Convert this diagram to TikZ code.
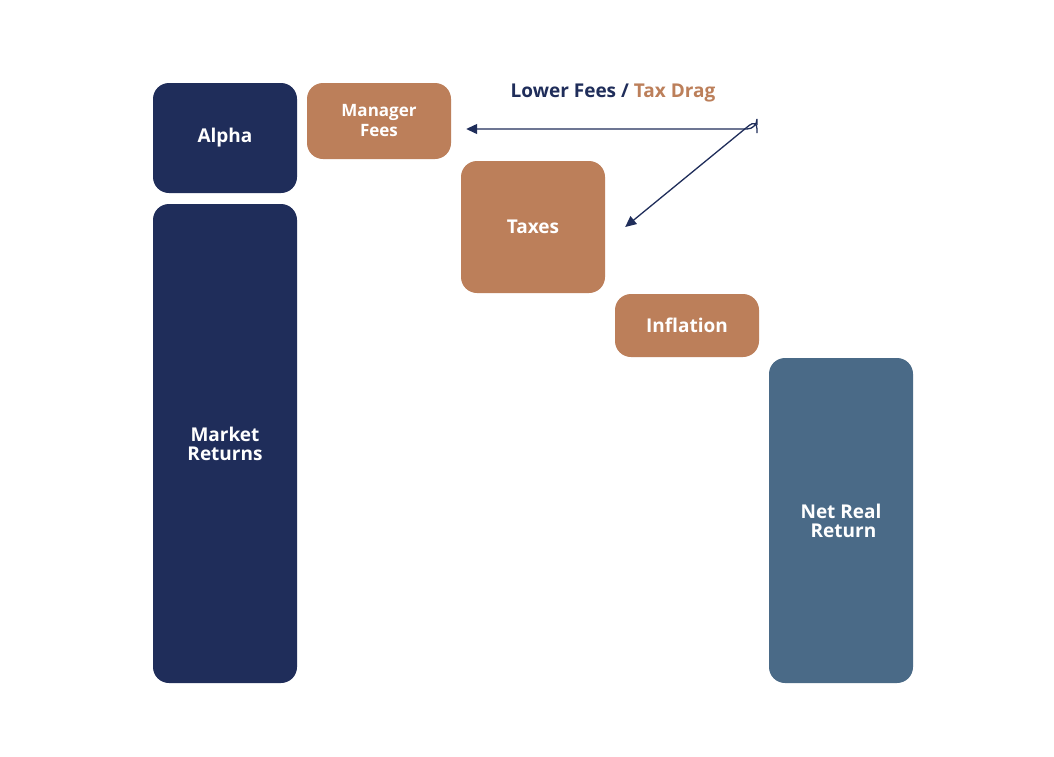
\documentclass[tikz,border=0pt]{standalone}
\usepackage{fontspec}
\setmainfont{Open Sans}
\usetikzlibrary{arrows.meta}
\definecolor{navy}{HTML}{1F2D5A}
\definecolor{tan}{HTML}{BC7F5A}
\definecolor{slate}{HTML}{4A6A87}
\begin{document}
\begin{tikzpicture}[x=1pt,y=-1pt,
  box/.style={rounded corners=16pt,inner sep=0,text=white,font=\bfseries\fontsize{19}{22}\selectfont,align=center},
  arr/.style={navy,line width=1.3pt,-{Triangle[length=11pt,width=10pt]}}]
\useasboundingbox (0,0) rectangle (1054,756);
\fill[white] (0,0) rectangle (1054,756);
\newcommand\bx[7]{\fill[#6,rounded corners=16pt] (#2,#3) rectangle (#4,#5);
  \node[box] (#1) at ({(#2+#4)/2},{(#3+#5)/2}) [minimum width={#4-#2},minimum height={#5-#3}] {#7};}
\bx{alpha}{153}{83}{297}{193}{navy}{Alpha}
\bx{mkt}{153}{204}{297}{683}{navy}{Market\\[-3pt]Returns}
\bx{mf}{307}{83}{451}{159}{tan}{\fontsize{17}{19}\selectfont Manager\\[-2pt]\fontsize{17}{19}\selectfont Fees}
\bx{tax}{461}{161}{605}{293}{tan}{Taxes}
\bx{inf}{615}{294}{759}{357}{tan}{Inflation}
\bx{net}{769}{358}{913}{683}{slate}{Net Real\\[-3pt]\ Return}
\node[font=\bfseries\fontsize{19}{22}\selectfont] (lbl) at (613,93) {\textcolor{navy}{Lower Fees /} \textcolor{tan}{Tax Drag}};
\coordinate (k) at (757,125);
\draw[arr,rounded corners=10pt] (k) |- ([xshift=15pt,yshift=-8pt]mf.east);
\draw[arr,rounded corners=10pt] ([yshift=-8pt]k) -- ([yshift=6pt]k) -- ([xshift=20pt]tax.east);
\end{tikzpicture}
\end{document}
